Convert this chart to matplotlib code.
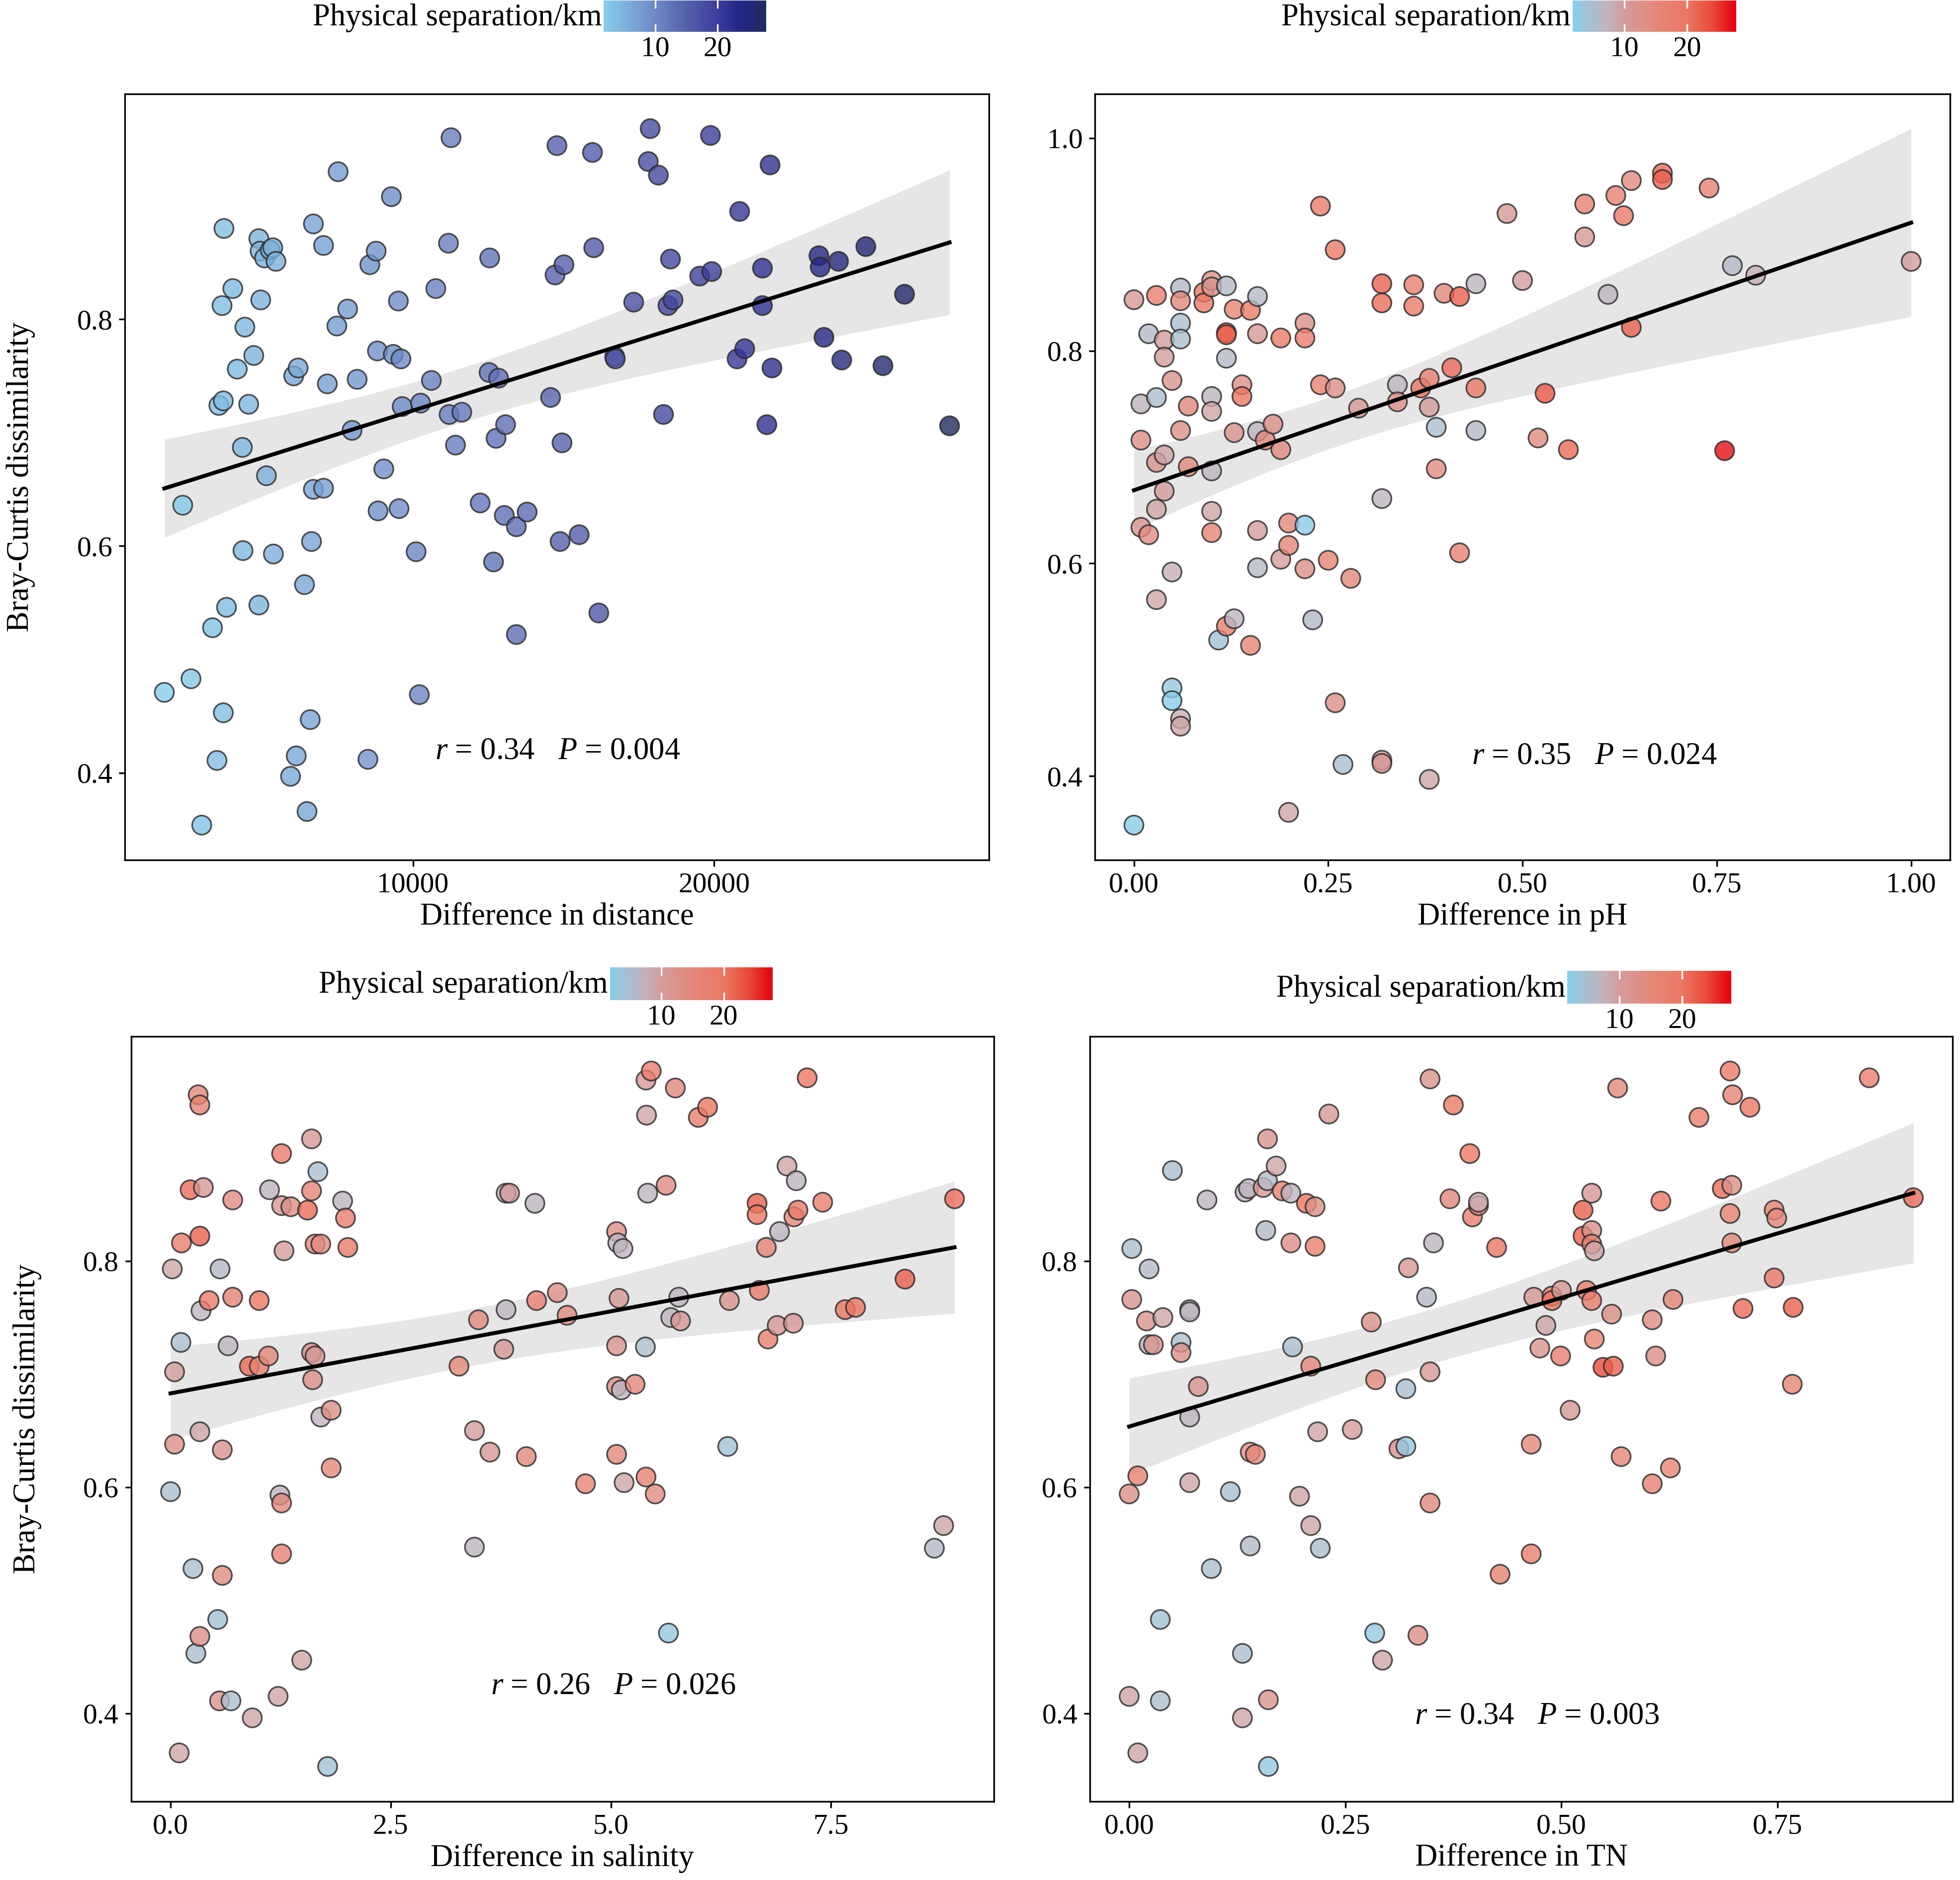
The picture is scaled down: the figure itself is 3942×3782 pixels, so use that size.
import numpy as np
import matplotlib
matplotlib.use('Agg')
import matplotlib.pyplot as plt
from matplotlib.colors import LinearSegmentedColormap, Normalize
from matplotlib.cm import ScalarMappable
from matplotlib.ticker import FixedLocator, MultipleLocator, FormatStrFormatter

plt.rcParams['font.family'] = ['Liberation Serif', 'DejaVu Serif']
plt.rcParams['mathtext.fontset'] = 'custom'
plt.rcParams['mathtext.rm'] = 'Liberation Serif'
plt.rcParams['mathtext.it'] = 'Liberation Serif:italic'

# ---------------- data ----------------
# Panel 1: difference in distance (m) vs Bray-Curtis
dist1 = [1747, 2358, 2632, 2989, 3347, 3495, 3558, 3663, 3705, 3705, 3726, 3811, 4021, 4168, 4337, 4358,
         4421, 4547, 4716, 4884, 4884, 4947, 4926, 5074, 5137, 5263, 5347, 5368, 5453, 5937, 6042, 6126,
         6189, 6400, 6484, 6589, 6632, 6695, 6695, 7032, 7032, 7158, 7474, 7516, 7832, 7979, 8147, 8505,
         8568, 8779, 8821, 8842, 9032, 9284, 9347, 9537, 9516, 9600, 9642, 10105, 10211, 10253, 10611,
         10758, 11179, 11200, 11263, 11411, 11621, 12232, 12526, 12547, 12674, 12758, 12842, 13032, 13074,
         13432, 13432, 13789, 14568, 14716, 14779, 14884, 14947, 15011, 15516, 15958, 16000, 16168, 16695,
         16716, 17326, 17811, 17874, 18147, 18316, 18463, 18547, 18632, 19516, 19874, 19916, 20758, 20842,
         21011, 21600, 21600, 21747, 21853, 21916, 23474, 23516, 23642, 24126, 24232, 25032, 25600, 26316,
         27811]
bc1 = [0.471, 0.636, 0.483, 0.354, 0.528, 0.411, 0.724, 0.812, 0.453, 0.728, 0.880, 0.546, 0.827, 0.756,
       0.687, 0.596, 0.793, 0.725, 0.768, 0.871, 0.548, 0.817, 0.860, 0.854, 0.662, 0.861, 0.863, 0.593,
       0.851, 0.397, 0.750, 0.415, 0.757, 0.566, 0.366, 0.447, 0.604, 0.884, 0.650, 0.651, 0.865, 0.743,
       0.794, 0.930, 0.809, 0.702, 0.747, 0.412, 0.848, 0.860, 0.772, 0.631, 0.668, 0.908, 0.769, 0.633,
       0.816, 0.765, 0.723, 0.595, 0.469, 0.726, 0.746, 0.827, 0.867, 0.716, 0.960, 0.689, 0.718, 0.638,
       0.753, 0.854, 0.586, 0.695, 0.748, 0.627, 0.707, 0.522, 0.617, 0.630, 0.731, 0.839, 0.953, 0.604,
       0.691, 0.848, 0.610, 0.947, 0.863, 0.541, 0.767, 0.765, 0.815, 0.939, 0.968, 0.927, 0.716, 0.812,
       0.853, 0.817, 0.838, 0.962, 0.842, 0.765, 0.895, 0.774, 0.845, 0.812, 0.707, 0.936, 0.757, 0.856,
       0.846, 0.784, 0.851, 0.764, 0.864, 0.759, 0.822, 0.706]

# Panel 2: difference in pH
ph2 = [0.000, 0.000, 0.009, 0.009, 0.009, 0.019, 0.019, 0.029, 0.029, 0.029, 0.029, 0.039, 0.039, 0.039,
       0.039, 0.029, 0.049, 0.049, 0.049, 0.049, 0.060, 0.060, 0.060, 0.060, 0.060, 0.060, 0.060, 0.070,
       0.070, 0.090, 0.090, 0.100, 0.100, 0.100, 0.100, 0.100, 0.100, 0.100, 0.109, 0.119, 0.119, 0.119,
       0.119, 0.119, 0.129, 0.129, 0.129, 0.139, 0.139, 0.150, 0.150, 0.159, 0.159, 0.159, 0.159, 0.159,
       0.169, 0.179, 0.189, 0.189, 0.189, 0.199, 0.199, 0.199, 0.220, 0.220, 0.220, 0.220, 0.230, 0.240,
       0.240, 0.250, 0.259, 0.259, 0.259, 0.269, 0.279, 0.289, 0.319, 0.319, 0.319, 0.319, 0.319, 0.339,
       0.339, 0.360, 0.360, 0.369, 0.380, 0.380, 0.380, 0.389, 0.389, 0.399, 0.409, 0.419, 0.419, 0.440,
       0.440, 0.440, 0.480, 0.500, 0.520, 0.529, 0.559, 0.580, 0.580, 0.610, 0.620, 0.630, 0.640, 0.640,
       0.680, 0.680, 0.740, 0.760, 0.770, 0.800, 1.000]
bc2 = [0.848, 0.354, 0.750, 0.716, 0.634, 0.816, 0.627, 0.852, 0.756, 0.695, 0.566, 0.810, 0.794, 0.702,
       0.668, 0.651, 0.772, 0.592, 0.483, 0.471, 0.859, 0.847, 0.826, 0.811, 0.725, 0.454, 0.447, 0.748,
       0.691, 0.855, 0.845, 0.866, 0.860, 0.757, 0.743, 0.687, 0.649, 0.629, 0.528, 0.861, 0.817, 0.815,
       0.793, 0.541, 0.548, 0.839, 0.723, 0.768, 0.757, 0.838, 0.523, 0.851, 0.816, 0.724, 0.631, 0.596,
       0.716, 0.731, 0.812, 0.707, 0.604, 0.638, 0.617, 0.366, 0.826, 0.812, 0.636, 0.595, 0.547, 0.936,
       0.768, 0.603, 0.895, 0.765, 0.469, 0.411, 0.586, 0.746, 0.863, 0.845, 0.661, 0.415, 0.412, 0.768,
       0.752, 0.862, 0.842, 0.765, 0.774, 0.747, 0.397, 0.728, 0.689, 0.854, 0.784, 0.851, 0.610, 0.863,
       0.765, 0.725, 0.929, 0.866, 0.718, 0.760, 0.707, 0.938, 0.907, 0.853, 0.946, 0.927, 0.960, 0.822,
       0.967, 0.961, 0.953, 0.706, 0.880, 0.871, 0.884]
sep2 = [11, 2, 7, 13, 12, 6, 14, 18, 5, 12, 9, 10, 10, 9, 10, 9, 12, 8, 3, 2, 6, 15, 5, 5, 13, 8, 9, 15, 15,
        20, 19, 13, 12, 7, 9, 7, 9, 16, 4, 6, 22, 22, 6, 18, 7, 16, 12, 13, 20, 19, 16, 6, 11, 7, 10, 6, 15,
        13, 19, 14, 10, 15, 16, 9, 13, 18, 2, 13, 6, 19, 17, 16, 19, 13, 13, 5, 15, 11, 22, 21, 7, 10, 11, 7,
        13, 18, 19, 20, 18, 10, 9, 5, 14, 15, 21, 22, 17, 7, 19, 6, 11, 10, 14, 23, 21, 17, 11, 7, 17, 19, 14,
        22, 21, 22, 17, 27, 6, 8, 10]

# Panel 3: difference in salinity
sal3 = [0.000, 0.020, 0.046, 0.046, 0.098, 0.118, 0.124, 0.222, 0.255, 0.288, 0.314, 0.333, 0.333, 0.333,
        0.333, 0.346, 0.373, 0.438, 0.536, 0.562, 0.556, 0.588, 0.588, 0.654, 0.686, 0.706, 0.706, 0.895,
        0.928, 1.007, 1.007, 1.111, 1.124, 1.222, 1.242, 1.261, 1.261, 1.261, 1.261, 1.288, 1.366, 1.490,
        1.556, 1.601, 1.601, 1.601, 1.614, 1.641, 1.641, 1.673, 1.706, 1.706, 1.784, 1.824, 1.824, 1.954,
        1.987, 2.013, 3.275, 3.451, 3.451, 3.497, 3.627, 3.784, 3.810, 3.810, 3.850, 4.040, 4.137, 4.157,
        4.392, 4.503, 4.712, 5.065, 5.065, 5.065, 5.065, 5.078, 5.092, 5.118, 5.137, 5.150, 5.275, 5.392,
        5.399, 5.399, 5.405, 5.418, 5.458, 5.503, 5.627, 5.654, 5.680, 5.732, 5.771, 5.791, 5.993, 6.098,
        6.327, 6.346, 6.660, 6.660, 6.686, 6.765, 6.784, 6.889, 6.915, 7.000, 7.072, 7.078, 7.105, 7.124,
        7.229, 7.405, 7.660, 7.778, 8.340, 8.673, 8.778, 8.902]
bc3 = [0.596, 0.793, 0.702, 0.638, 0.365, 0.728, 0.816, 0.863, 0.528, 0.453, 0.947, 0.938, 0.822, 0.649,
       0.468, 0.756, 0.865, 0.765, 0.483, 0.793, 0.411, 0.633, 0.522, 0.725, 0.411, 0.854, 0.768, 0.707,
       0.396, 0.765, 0.707, 0.716, 0.863, 0.415, 0.593, 0.895, 0.849, 0.586, 0.541, 0.809, 0.848, 0.447,
       0.845, 0.908, 0.862, 0.719, 0.695, 0.716, 0.815, 0.879, 0.815, 0.662, 0.353, 0.668, 0.617, 0.853,
       0.838, 0.812, 0.707, 0.650, 0.547, 0.748, 0.631, 0.722, 0.757, 0.860, 0.860, 0.627, 0.851, 0.765,
       0.772, 0.752, 0.603, 0.826, 0.725, 0.689, 0.629, 0.816, 0.767, 0.686, 0.811, 0.604, 0.691, 0.724,
       0.609, 0.960, 0.929, 0.860, 0.968, 0.594, 0.867, 0.471, 0.750, 0.953, 0.768, 0.747, 0.927, 0.936,
       0.636, 0.765, 0.851, 0.841, 0.774, 0.812, 0.731, 0.743, 0.826, 0.884, 0.745, 0.839, 0.871, 0.845,
       0.962, 0.852, 0.757, 0.759, 0.784, 0.546, 0.566, 0.855]
sep3 = [5, 9, 10, 13, 9, 5, 18, 21, 5, 5, 15, 17, 22, 9, 13, 7, 11, 19, 4, 6, 12, 12, 14, 7, 5, 14, 17, 21, 9,
        20, 17, 15, 7, 9, 7, 19, 11, 15, 17, 10, 13, 9, 21, 11, 16, 13, 13, 11, 15, 5, 14, 7, 4, 13, 15, 7, 18,
        19, 15, 10, 7, 15, 11, 11, 7, 7, 10, 15, 7, 18, 13, 14, 16, 13, 12, 13, 15, 7, 11, 7, 7, 9, 15, 5, 17,
        11, 9, 7, 18, 14, 14, 3, 7, 15, 7, 11, 18, 20, 4, 12, 22, 20, 19, 16, 18, 11, 7, 9, 11, 15, 7, 19, 20,
        18, 20, 20, 22, 6, 9, 21]

# Panel 4: difference in TN
tn4 = [0.000, 0.000, 0.003, 0.003, 0.010, 0.010, 0.020, 0.023, 0.023, 0.028, 0.036, 0.036, 0.039, 0.050,
       0.060, 0.060, 0.070, 0.070, 0.070, 0.070, 0.080, 0.090, 0.095, 0.117, 0.131, 0.131, 0.134, 0.138,
       0.140, 0.146, 0.140, 0.155, 0.158, 0.160, 0.160, 0.161, 0.161, 0.170, 0.177, 0.187, 0.187, 0.189,
       0.197, 0.205, 0.210, 0.210, 0.215, 0.215, 0.218, 0.221, 0.231, 0.258, 0.280, 0.284, 0.285, 0.293,
       0.312, 0.320, 0.320, 0.323, 0.334, 0.344, 0.348, 0.348, 0.348, 0.352, 0.371, 0.375, 0.394, 0.397,
       0.404, 0.404, 0.425, 0.429, 0.465, 0.465, 0.468, 0.475, 0.482, 0.489, 0.489, 0.499, 0.500, 0.510,
       0.525, 0.525, 0.529, 0.535, 0.535, 0.535, 0.535, 0.538, 0.538, 0.548, 0.560, 0.558, 0.565, 0.569,
       0.605, 0.605, 0.609, 0.615, 0.626, 0.629, 0.659, 0.686, 0.695, 0.697, 0.695, 0.697, 0.698, 0.710,
       0.718, 0.746, 0.749, 0.746, 0.767, 0.768, 0.856, 0.907]
bc4 = [0.594, 0.415, 0.811, 0.766, 0.610, 0.365, 0.747, 0.793, 0.726, 0.726, 0.483, 0.411, 0.750, 0.880,
       0.728, 0.719, 0.757, 0.755, 0.662, 0.604, 0.689, 0.854, 0.528, 0.596, 0.453, 0.396, 0.861, 0.864,
       0.631, 0.629, 0.548, 0.865, 0.827, 0.908, 0.871, 0.412, 0.353, 0.884, 0.862, 0.860, 0.816, 0.724,
       0.592, 0.851, 0.707, 0.566, 0.848, 0.813, 0.649, 0.546, 0.930, 0.651, 0.746, 0.471, 0.695, 0.447,
       0.634, 0.636, 0.687, 0.794, 0.469, 0.768, 0.961, 0.702, 0.586, 0.816, 0.855, 0.938, 0.895, 0.839,
       0.849, 0.852, 0.812, 0.523, 0.638, 0.541, 0.768, 0.723, 0.743, 0.769, 0.765, 0.716, 0.774, 0.668,
       0.845, 0.822, 0.774, 0.860, 0.827, 0.815, 0.765, 0.809, 0.731, 0.706, 0.707, 0.753, 0.953, 0.627,
       0.748, 0.603, 0.716, 0.853, 0.617, 0.766, 0.927, 0.864, 0.968, 0.867, 0.842, 0.816, 0.947, 0.758,
       0.936, 0.845, 0.838, 0.785, 0.691, 0.759, 0.962, 0.856]
sep4 = [13, 9, 5, 12, 17, 9, 12, 6, 7, 12, 4, 5, 9, 5, 5, 13, 8, 7, 7, 9, 12, 7, 5, 5, 5, 9, 7, 7, 13, 15, 6,
        11, 6, 12, 6, 12, 3, 9, 17, 7, 13, 5, 9, 20, 15, 9, 13, 18, 9, 5, 11, 10, 13, 3, 15, 9, 13, 3, 5, 11, 13,
        6, 12, 11, 15, 7, 15, 19, 20, 18, 15, 8, 20, 17, 15, 18, 11, 12, 9, 18, 20, 18, 11, 11, 22, 22, 18, 11,
        13, 17, 18, 9, 16, 24, 22, 13, 15, 16, 14, 17, 13, 20, 16, 16, 18, 21, 19, 13, 16, 15, 16, 21, 20, 16,
        15, 19, 16, 22, 18, 21]

x_labels = ['Difference in distance', 'Difference in pH', 'Difference in salinity', 'Difference in TN']
stat_texts = [r'$\it{r}$ = 0.34   $\it{P}$ = 0.004', r'$\it{r}$ = 0.35   $\it{P}$ = 0.024',
              r'$\it{r}$ = 0.26   $\it{P}$ = 0.026', r'$\it{r}$ = 0.34   $\it{P}$ = 0.003']
y_label = 'Bray-Curtis dissimilarity'
cbar_title = 'Physical separation/km'
sep_range = (1.75, 27.8)
cbar_ticks = [10, 20]

# ---------------- style ----------------
cmap_blue = LinearSegmentedColormap.from_list('blue', [
    (0.0, '#87CEEB'), (0.317, '#6E88C6'), (0.51, '#5560AC'), (0.70, '#3B3D9B'),
    (0.82, '#27278A'), (1.0, '#1E2A5C')])
cmap_red = LinearSegmentedColormap.from_list('red', [
    (0.0, '#87CEEB'), (0.113, '#A8C0D0'), (0.225, '#C4B2BA'), (0.317, '#D39C9A'),
    (0.509, '#E4887A'), (0.70, '#EC7864'), (0.854, '#E84A38'), (1.0, '#E4000F')])
norm = Normalize(vmin=sep_range[0], vmax=sep_range[1])

W, H = 3942, 3782
fig = plt.figure(figsize=(W / 300, H / 300), dpi=300)

ax_pos = [
    [0.0638, 0.5426, 0.5045 - 0.0638, 0.9501 - 0.5426],
    [0.5587, 0.5426, 0.9949 - 0.5587, 0.9501 - 0.5426],
    [0.0670, 0.0419, 0.5070 - 0.0670, 0.4488 - 0.0419],
    [0.5561, 0.0419, 0.9962 - 0.5561, 0.4488 - 0.0419],
]
cax_pos = [
    [0.3080, 0.9830, 0.0830, 0.0168],
    [0.8023, 0.9830, 0.0835, 0.0168],
    [0.3112, 0.4680, 0.0829, 0.0174],
    [0.7997, 0.4661, 0.0836, 0.0174],
]
stat_pos = [(0.501, 0.142), (0.584, 0.135), (0.559, 0.150), (0.518, 0.111)]

panels = [
    (dist1, bc1, [d / 1000.0 for d in dist1], cmap_blue),
    (ph2, bc2, sep2, cmap_red),
    (sal3, bc3, sep3, cmap_red),
    (tn4, bc4, sep4, cmap_red),
]

FS_TICK = 13.8
FS_LAB = 15
T_CRIT = 1.98

for i, (xv, yv, cv, cmap) in enumerate(panels):
    ax = fig.add_axes(ax_pos[i])
    x = np.asarray(xv, float)
    y = np.asarray(yv, float)
    # linear fit with 95% confidence band
    n = len(x)
    b, a = np.polyfit(x, y, 1)
    xg = np.linspace(x.min(), x.max(), 100)
    yg = a + b * xg
    resid = y - (a + b * x)
    s = np.sqrt(np.sum(resid ** 2) / (n - 2))
    se = s * np.sqrt(1.0 / n + (xg - x.mean()) ** 2 / np.sum((x - x.mean()) ** 2))
    ax.fill_between(xg, yg - T_CRIT * se, yg + T_CRIT * se, color='#E6E6E6', lw=0, zorder=1)
    ax.scatter(x, y, c=cv, cmap=cmap, norm=norm, s=85, alpha=0.8,
               edgecolors='#2a2a2a', linewidths=0.8, zorder=2)
    ax.plot(xg, yg, color='black', lw=1.9, zorder=3)

    ax.yaxis.set_major_locator(MultipleLocator(0.2))
    ax.yaxis.set_major_formatter(FormatStrFormatter('%.1f'))
    if i == 0:
        ax.xaxis.set_major_locator(FixedLocator([10000, 20000]))
        ax.xaxis.set_major_formatter(FormatStrFormatter('%d'))
    elif i == 2:
        ax.xaxis.set_major_locator(MultipleLocator(2.5))
        ax.xaxis.set_major_formatter(FormatStrFormatter('%.1f'))
    else:
        ax.xaxis.set_major_locator(MultipleLocator(0.25))
        ax.xaxis.set_major_formatter(FormatStrFormatter('%.2f'))
    ax.margins(0.05)
    ax.tick_params(direction='out', length=3, width=0.8, labelsize=FS_TICK, pad=3, colors='black')
    for sp in ax.spines.values():
        sp.set_linewidth(0.8)
        sp.set_color('black')
    ax.set_xlabel(x_labels[i], fontsize=FS_LAB, labelpad=2)
    if i in (0, 2):
        ax.set_ylabel(y_label, fontsize=FS_LAB, labelpad=20)
    ax.text(stat_pos[i][0], stat_pos[i][1], stat_texts[i], transform=ax.transAxes,
            ha='center', va='center', fontsize=FS_LAB)

    # colour bar
    cax = fig.add_axes(cax_pos[i])
    sm = ScalarMappable(norm=norm, cmap=cmap)
    cb = fig.colorbar(sm, cax=cax, orientation='horizontal', ticks=cbar_ticks)
    cb.outline.set_visible(False)
    cax.tick_params(length=0, labelsize=FS_TICK, pad=2)
    cax.set_xticklabels([str(t) for t in cbar_ticks])
    for t in cbar_ticks:
        cax.axvline(t, 0, 0.22, color='white', lw=0.8)
        cax.axvline(t, 0.78, 1, color='white', lw=0.8)
    cax.text(-0.012, 0.45, cbar_title, transform=cax.transAxes, ha='right', va='center',
             fontsize=FS_LAB)

fig.savefig('out.png', dpi=300, facecolor='white')
